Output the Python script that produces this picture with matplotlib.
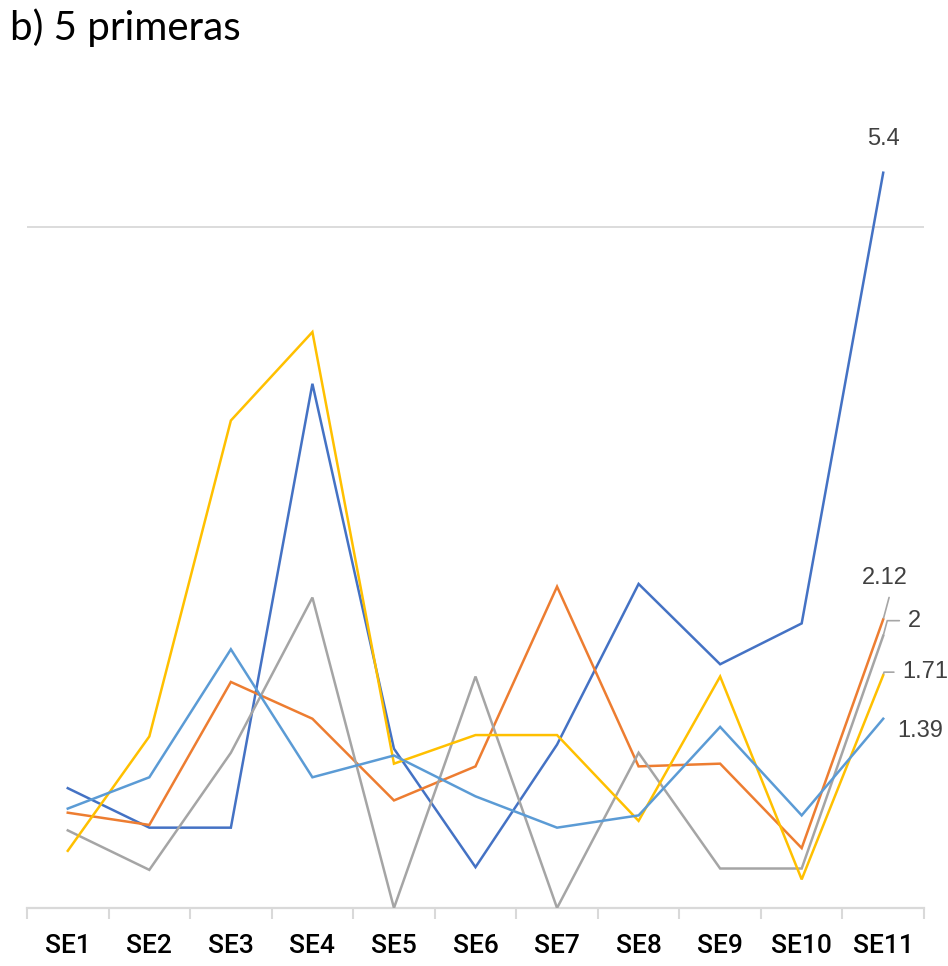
import numpy as np
import matplotlib
matplotlib.use("Agg")
import matplotlib.pyplot as plt

# weekly values (SE1..SE11) for the five series
categories = ["SE1", "SE2", "SE3", "SE4", "SE5", "SE6", "SE7", "SE8", "SE9", "SE10", "SE11"]
serie_1 = [0.88, 0.59, 0.59, 3.85, 1.17, 0.30, 1.20, 2.38, 1.79, 2.09, 5.40]
serie_2 = [0.70, 0.61, 1.66, 1.39, 0.79, 1.04, 2.36, 1.04, 1.06, 0.44, 2.12]
serie_3 = [0.57, 0.28, 1.14, 2.28, 0.00, 1.70, 0.00, 1.14, 0.29, 0.29, 2.00]
serie_4 = [0.42, 1.26, 3.58, 4.23, 1.06, 1.27, 1.27, 0.64, 1.70, 0.21, 1.71]
serie_5 = [0.73, 0.96, 1.90, 0.96, 1.12, 0.82, 0.59, 0.68, 1.33, 0.68, 1.39]
end_labels = ["5.4", "2.12", "2", "1.71", "1.39"]

series = [serie_1, serie_2, serie_3, serie_4, serie_5]
colors = ["#4472C4", "#ED7D31", "#A5A5A5", "#FFC000", "#5B9BD5"]
# label offsets (pixels) from the last point, and whether a leader line is drawn
label_off = [(0, 34), (2, 41), (31, 15), (42, 3), (37, -12)]
leader = [False, True, True, True, False]

fig = plt.figure(figsize=(9.48, 9.66), dpi=100)
ax = fig.add_axes([27/948, 58/966, 897/948, 817/966])

x = np.arange(len(categories))
for vals, c in zip(series, colors):
    ax.plot(x, vals, color=c, lw=1.8, solid_joinstyle="miter", zorder=3)

for vals, c, lab, off, ld in zip(series, colors, end_labels, label_off, leader):
    if ld:
        ax.annotate(lab, xy=(x[-1], vals[-1]), xytext=off, textcoords="offset pixels",
                    ha="center", va="center", fontsize=17, color="#404040",
                    family=["Liberation Sans", "DejaVu Sans"],
                    arrowprops=dict(arrowstyle="-", color="#A6A6A6", lw=1.2,
                                    shrinkA=4, shrinkB=1, relpos=(0, 0.5),
                                    connectionstyle="angle,angleA=180,angleB=75,rad=0"))
    else:
        ax.annotate(lab, xy=(x[-1], vals[-1]), xytext=off, textcoords="offset pixels",
                    ha="center", va="center", fontsize=17, color="#404040",
                    family=["Liberation Sans", "DejaVu Sans"])

ax.set_xlim(-0.5, len(categories) - 0.5)
ax.set_ylim(0, 6)

ax.axhline(5, color="#D9D9D9", lw=1.3, zorder=1)

for s in ["top", "right", "left"]:
    ax.spines[s].set_visible(False)
ax.spines["bottom"].set_color("#D9D9D9")
ax.spines["bottom"].set_linewidth(1.6)

ax.set_yticks([])
ax.set_xticks(np.arange(-0.5, len(categories)), minor=False)
ax.set_xticklabels([])
ax.set_xticks(x, minor=True)
ax.set_xticklabels(categories, minor=True, family=["Roboto", "DejaVu Sans"],
                   fontsize=19, fontweight="medium")
ax.tick_params(axis="x", which="major", length=8, width=1.5, color="#D9D9D9", direction="out")
ax.tick_params(axis="x", which="minor", length=0, pad=19, colors="black")

fig.text(10/948, 1 - 28/966, "b) 5 primeras", fontsize=29, family=["Lato", "DejaVu Sans"],
         ha="left", va="center", color="black")

fig.savefig("out.png", dpi=100)
